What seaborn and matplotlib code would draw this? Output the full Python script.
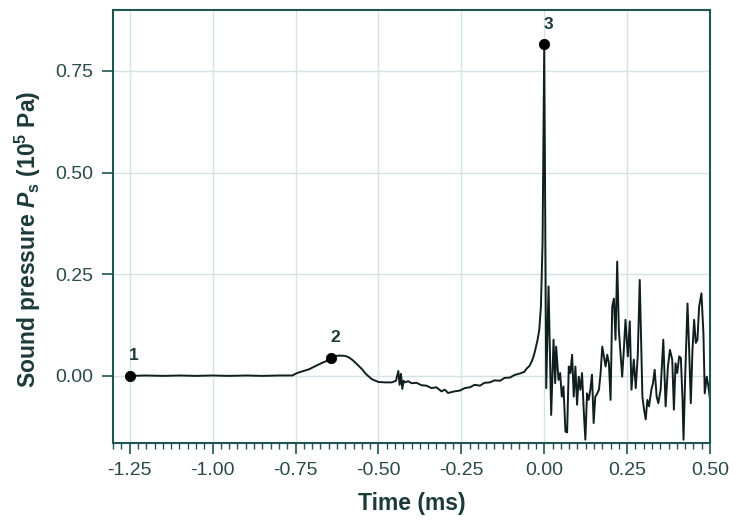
import matplotlib
matplotlib.use("Agg")
import matplotlib.pyplot as plt
import seaborn as sns
import pandas as pd
from matplotlib.ticker import MultipleLocator

# ---- data ----
time_ms = [
    -1.25, -1.20, -1.15, -1.10, -1.05, -1.00, -0.95, -0.90, -0.85, -0.80, -0.76,
    -0.745, -0.73, -0.71, -0.69, -0.67, -0.655, -0.642, -0.63, -0.615, -0.60,
    -0.59, -0.578, -0.565, -0.55, -0.537, -0.52, -0.50, -0.48, -0.46, -0.447,
    -0.440, -0.436, -0.432, -0.428, -0.424, -0.42, -0.41, -0.40, -0.385, -0.37,
    -0.355, -0.34, -0.325, -0.31, -0.30, -0.29, -0.27, -0.254, -0.24, -0.224,
    -0.21, -0.194, -0.18, -0.164, -0.15, -0.133, -0.12, -0.103, -0.09, -0.073,
    -0.06, -0.053, -0.045, -0.038, -0.032, -0.027, -0.020, -0.015, -0.010,
    -0.005, 0.0,
    0.006, 0.013, 0.021, 0.028, 0.033, 0.036, 0.043, 0.048, 0.053, 0.058,
    0.064, 0.069, 0.074, 0.079, 0.084, 0.089, 0.094, 0.099, 0.104, 0.109,
    0.114, 0.119, 0.124, 0.129, 0.134, 0.139, 0.144, 0.149, 0.154, 0.160,
    0.165, 0.170, 0.175, 0.180, 0.185, 0.190, 0.195, 0.200, 0.205, 0.210,
    0.215, 0.220, 0.225, 0.230, 0.235, 0.240, 0.245, 0.252, 0.258, 0.263,
    0.270, 0.276, 0.282, 0.288, 0.296, 0.301, 0.306, 0.311, 0.316, 0.323,
    0.328, 0.333, 0.339, 0.344, 0.351, 0.359, 0.366, 0.373, 0.379, 0.386,
    0.391, 0.396, 0.401, 0.407, 0.412, 0.417, 0.420, 0.425, 0.432, 0.437,
    0.442, 0.447, 0.452, 0.457, 0.462, 0.467, 0.474, 0.480, 0.484, 0.490,
    0.495, 0.500,
]
pressure = [
    0.000, 0.001, 0.000, 0.001, 0.000, 0.001, 0.000, 0.001, 0.000, 0.001, 0.001,
    0.007, 0.011, 0.016, 0.024, 0.032, 0.037, 0.044, 0.049, 0.050, 0.049,
    0.046, 0.039, 0.029, 0.017, 0.004, -0.008, -0.015, -0.016, -0.016, -0.012,
    0.012, -0.022, 0.005, -0.032, -0.012, -0.016, -0.013, -0.018, -0.017, -0.023,
    -0.024, -0.030, -0.028, -0.038, -0.034, -0.042, -0.038, -0.036, -0.030, -0.028,
    -0.022, -0.024, -0.017, -0.016, -0.011, -0.012, -0.005, -0.004, 0.002, 0.006,
    0.010, 0.018, 0.024, 0.035, 0.048, 0.064, 0.089, 0.113, 0.170,
    0.330, 0.815,
    -0.030, 0.220, -0.096, 0.089, -0.018, 0.072, -0.010, 0.007, -0.051, -0.026,
    -0.137, -0.139, 0.023, 0.007, 0.052, -0.051, 0.023, -0.071, -0.002, -0.034,
    0.007, -0.083, -0.157, -0.043, -0.059, -0.034, 0.003, -0.116, -0.051, -0.043,
    -0.034, 0.007, 0.072, 0.048, 0.023, 0.052, 0.031, -0.059, 0.170, 0.190,
    0.089, 0.281, 0.113, 0.056, -0.002, 0.064, 0.138, 0.048, 0.134, -0.034,
    0.040, -0.030, 0.050, 0.236, -0.051, -0.083, -0.107, -0.059, -0.075, -0.034,
    -0.018, 0.015, -0.051, -0.067, -0.034, 0.089, -0.075, 0.023, 0.064, 0.040,
    -0.083, 0.031, 0.007, 0.048, 0.044, -0.059, -0.157, -0.002, 0.178, 0.064,
    -0.067, 0.064, 0.138, 0.081, 0.089, 0.170, 0.203, 0.105, -0.043, -0.002,
    -0.026, -0.059,
]
point_labels = ["1", "2", "3"]
point_time = [-1.25, -0.642, 0.0]
point_pressure = [0.000, 0.044, 0.815]

x_ticks = [-1.25, -1.00, -0.75, -0.50, -0.25, 0.00, 0.25, 0.50]
y_ticks = [0.00, 0.25, 0.50, 0.75]

df = pd.DataFrame({"t": time_ms, "p": pressure})
pts = pd.DataFrame({"t": point_time, "p": point_pressure, "lab": point_labels})

sns.set_theme(style="white")
plt.rcParams["font.family"] = ["Liberation Sans", "DejaVu Sans"]
plt.rcParams["mathtext.fontset"] = "custom"
plt.rcParams["mathtext.rm"] = "Liberation Sans:bold"
plt.rcParams["mathtext.it"] = "Liberation Sans:italic:bold"
plt.rcParams["mathtext.bf"] = "Liberation Sans:bold"

text_col = "#1c3a3a"
tick_col = "#2a4a4a"
spine_col = "#1f5553"
grid_col = "#d6e3e5"
line_col = "#0e1f1d"

fig = plt.figure(figsize=(7.49, 5.23), dpi=100)
ax = fig.add_axes([0.151, 0.153, 0.797, 0.828])

sns.lineplot(data=df, x="t", y="p", ax=ax, color=line_col, linewidth=1.4,
             estimator=None, sort=False)
sns.scatterplot(data=pts, x="t", y="p", ax=ax, color="black", s=55,
                edgecolor="black", zorder=5)
for _, r in pts.iterrows():
    ax.annotate(r["lab"], (r["t"], r["p"]), xytext=(3, 9),
                textcoords="offset points", ha="center", va="bottom",
                fontsize=12.5, fontweight="bold", color=text_col)

ax.set_xlim(-1.30, 0.50)
ax.set_ylim(-0.165, 0.90)
ax.set_xticks(x_ticks)
ax.set_xticklabels([f"{v:.2f}" for v in x_ticks])
ax.set_yticks(y_ticks)
ax.set_yticklabels([f"{v:.2f}" for v in y_ticks])
ax.xaxis.set_minor_locator(MultipleLocator(0.025))

ax.grid(True, which="major", color=grid_col, linewidth=1.0)
ax.set_axisbelow(True)
for s in ax.spines.values():
    s.set_color(spine_col)
    s.set_linewidth(1.5)

ax.tick_params(axis="both", which="major", direction="out", length=8,
               width=1.2, color=spine_col, labelsize=14, labelcolor=tick_col,
               pad=6)
ax.tick_params(axis="x", which="minor", direction="out", length=4,
               width=1.0, color=spine_col, bottom=True)
ax.tick_params(axis="x", which="major", bottom=True)
ax.tick_params(axis="y", which="major", left=True)

ax.set_xlabel("Time (ms)", fontsize=16.5, fontweight="bold", color=text_col,
              labelpad=9)
ax.set_ylabel(r"Sound pressure $P_{\mathrm{s}}$ (10$^{\mathrm{5}}$ Pa)",
              fontsize=16.5, fontweight="bold", color=text_col)
ax.yaxis.set_label_coords(-0.118, 0.47)

fig.savefig("out.png", dpi=100)
